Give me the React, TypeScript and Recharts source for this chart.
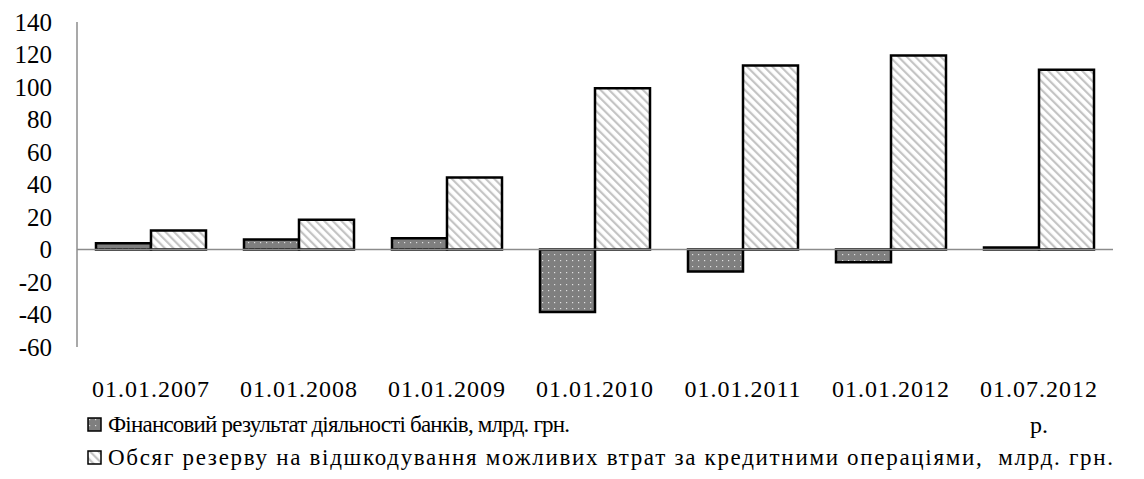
import { Bar, BarChart, Legend, ReferenceLine, XAxis, YAxis } from 'recharts';

const categories = [
  '01.01.2007',
  '01.01.2008',
  '01.01.2009',
  '01.01.2010',
  '01.01.2011',
  '01.01.2012',
  '01.07.2012',
];
const financialResult = [3.9, 6.2, 7.0, -38.5, -13.5, -7.8, 1.2];
const lossReserve = [11.7, 18.3, 44.3, 99.2, 113.2, 119.4, 110.6];
const yTicks = [-60, -40, -20, 0, 20, 40, 60, 80, 100, 120, 140];

const seriesNames = {
  fin: 'Фінансовий результат діяльності банків, млрд. грн.',
  res: 'Обсяг резерву на відшкодування можливих втрат за кредитними операціями,  млрд. грн.',
};

const data = categories.map((date, i) => ({
  date,
  fin: financialResult[i],
  res: lossReserve[i],
}));

const font = 'Liberation Serif, DejaVu Serif, serif';

const DateTick = (props: any) => {
  const { x, y, payload, index } = props;
  const last = index === categories.length - 1;
  return (
    <g>
      <text x={x} y={y + 48} textAnchor="middle" fontSize={24} letterSpacing={1} fill="#000" fontFamily={font}>
        {payload.value}
      </text>
      {last && (
        <text x={x} y={y + 84} textAnchor="middle" fontSize={24} fill="#000" fontFamily={font}>
          р.
        </text>
      )}
    </g>
  );
};

const LegendBox = ({ fill }: { fill: string }) => (
  <svg width={15} height={15} style={{ marginRight: 6, flexShrink: 0 }}>
    <rect x={1} y={1} width={13} height={13} fill={fill} stroke="#000" strokeWidth={1.5} />
  </svg>
);

const renderLegend = () => (
  <div style={{ fontFamily: font, fontSize: 23, color: '#000', lineHeight: '33px' }}>
    <div style={{ display: 'flex', alignItems: 'center', letterSpacing: -0.8 }}>
      <LegendBox fill="url(#dots)" />
      {seriesNames.fin}
    </div>
    <div style={{ display: 'flex', alignItems: 'center', whiteSpace: 'pre', letterSpacing: 1.7 }}>
      <LegendBox fill="url(#hatch)" />
      {seriesNames.res}
    </div>
  </div>
);

const App = () => (
  <div style={{ margin: -8, background: '#fff', width: 1144, height: 479 }}>
    <BarChart
      width={1144}
      height={479}
      data={data}
      margin={{ top: 22, right: 31, left: 0, bottom: 0 }}
      barGap={0}
      barCategoryGap={19}
    >
      <defs>
        <pattern id="dots" width={6} height={6} patternUnits="userSpaceOnUse">
          <rect width={6} height={6} fill="#7f7f7f" />
          <rect x={2} y={2} width={1.2} height={1.2} fill="#e0e0e0" />
        </pattern>
        <pattern id="hatch" width={6} height={6} patternUnits="userSpaceOnUse" patternTransform="rotate(-45)">
          <rect width={6} height={6} fill="#fff" />
          <rect x={0} y={0} width={2.2} height={6} fill="#c4c4c4" />
        </pattern>
      </defs>
      <XAxis
        dataKey="date"
        axisLine={false}
        tickLine={false}
        tickSize={0}
        height={132}
        interval={0}
        tick={<DateTick />}
      />
      <YAxis
        width={77}
        domain={[-60, 140]}
        ticks={yTicks}
        interval={0}
        axisLine={{ stroke: '#8c8c8c', strokeWidth: 1.5 }}
        tickLine={false}
        tickSize={0}
        tickMargin={25}
        tick={{ fontSize: 25, fill: '#000', fontFamily: font }}
        allowDataOverflow
      />
      <ReferenceLine y={0} stroke="#8c8c8c" strokeWidth={1.5} />
      <Legend
        layout="horizontal"
        verticalAlign="middle"
        align="center"
        content={renderLegend}
        wrapperStyle={{ top: 408, left: 87, width: 1060 }}
      />
      <Bar dataKey="fin" name={seriesNames.fin} fill="url(#dots)" stroke="#000" strokeWidth={2.5} isAnimationActive={false} />
      <Bar dataKey="res" name={seriesNames.res} fill="url(#hatch)" stroke="#000" strokeWidth={2.5} isAnimationActive={false} />
    </BarChart>
  </div>
);

export default App;
